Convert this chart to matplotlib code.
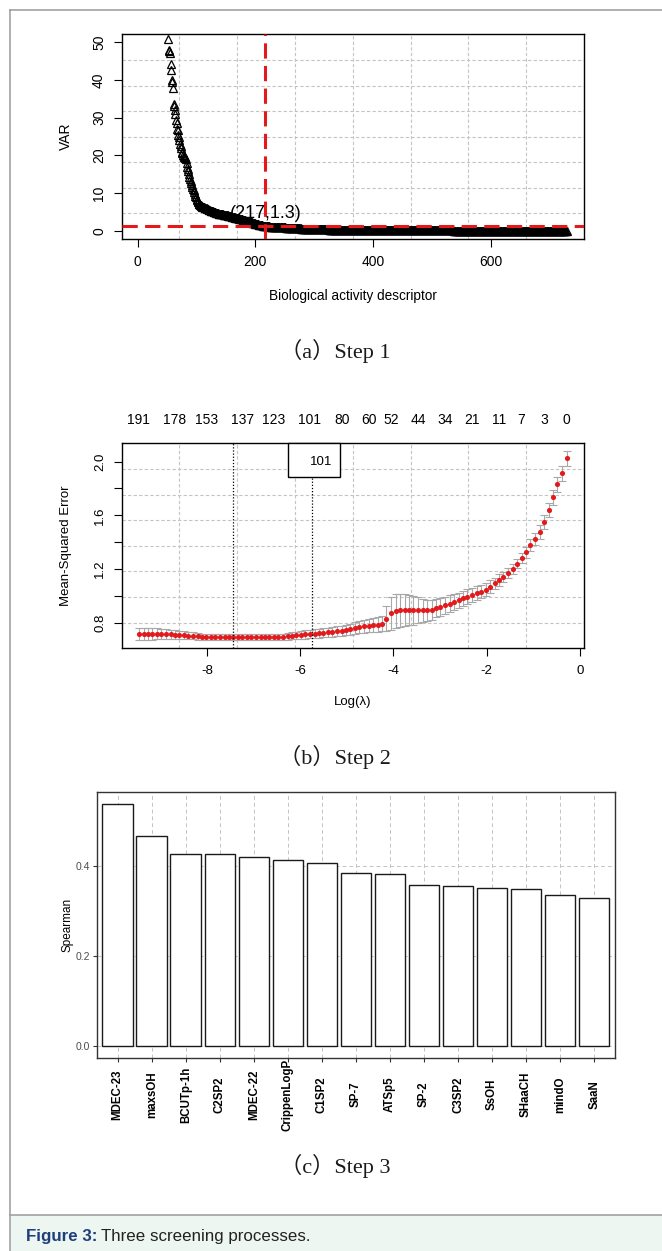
import numpy as np
import matplotlib
matplotlib.use('Agg')
import matplotlib.pyplot as plt
from matplotlib.patches import Rectangle
from matplotlib.lines import Line2D
import matplotlib.transforms as mtransforms

plt.rcParams['font.family'] = ['Liberation Sans', 'DejaVu Sans']
plt.rcParams['axes.unicode_minus'] = False

# ---------------- Panel (a) data: VAR of sorted descriptors ----------------
var_steep = [50.8, 48.0, 47.6, 47.2, 44.2, 42.5, 40.0, 39.5, 37.8, 33.6, 33.1, 32.0, 31.0, 29.4, 28.5,
             27.0, 26.7, 25.5, 24.8, 24.1, 23.0, 22.4, 21.9, 21.0, 20.6, 20.1, 19.9, 19.7, 19.5, 19.3,
             19.0, 18.0, 17.0, 16.5, 15.8, 15.0, 14.4, 13.8, 13.2, 12.6, 12.2, 11.7, 11.2, 10.8, 10.4,
             9.9, 9.4, 8.9, 8.5, 8.2, 7.9, 7.6, 7.3, 7.1, 6.9, 6.8, 6.7, 6.6, 6.5]
var_knee = [6.4, 6.35, 6.3, 6.2, 6.1, 6.05, 6.0, 5.9, 5.8, 5.75, 5.7, 5.6, 5.5, 5.45, 5.4, 5.3, 5.25,
            5.2, 5.1, 5.05, 5.0, 4.95, 4.9, 4.85, 4.8, 4.75, 4.7, 4.65, 4.6, 4.55, 4.5, 4.48, 4.45,
            4.42, 4.4, 4.38, 4.35, 4.33, 4.31, 4.3,
            4.25, 4.2, 4.15, 4.1, 4.05, 4.0, 3.96, 3.92, 3.88, 3.84, 3.8, 3.76, 3.72, 3.68, 3.64, 3.6,
            3.56, 3.52, 3.48, 3.44, 3.4, 3.36, 3.32, 3.28, 3.24, 3.2, 3.15, 3.1, 3.05, 3.0,
            2.95, 2.9, 2.85, 2.8, 2.75, 2.7, 2.65, 2.6, 2.55, 2.5, 2.45, 2.4, 2.35, 2.3, 2.25, 2.2,
            2.15, 2.1, 2.05, 2.0, 1.95, 1.9, 1.86, 1.82, 1.78, 1.74, 1.7, 1.66, 1.62, 1.58, 1.54,
            1.5, 1.46, 1.42, 1.38, 1.34, 1.3]
var_mid = [1.29, 1.28, 1.27, 1.26, 1.25, 1.24, 1.23, 1.22, 1.21, 1.20,
           1.19, 1.18, 1.17, 1.16, 1.15, 1.14, 1.13, 1.12, 1.11, 1.10,
           1.09, 1.08, 1.07, 1.06, 1.05, 1.04, 1.03, 1.02, 1.01, 1.00,
           0.99, 0.98, 0.97, 0.96, 0.95, 0.94, 0.93, 0.92, 0.91, 0.90,
           0.89, 0.88, 0.87, 0.86, 0.85, 0.84, 0.83, 0.82, 0.81, 0.80,
           0.79, 0.78, 0.77, 0.76, 0.75, 0.74, 0.73, 0.72, 0.71, 0.70,
           0.69, 0.68, 0.67, 0.66, 0.65, 0.64, 0.63, 0.62, 0.61, 0.60,
           0.60, 0.59, 0.59, 0.58, 0.58, 0.57, 0.57, 0.56, 0.56, 0.55, 0.55, 0.54, 0.54]
var_tail = [0.54, 0.53, 0.53, 0.52, 0.52, 0.51, 0.51, 0.50, 0.50, 0.49,
            0.49, 0.48, 0.48, 0.47, 0.47, 0.46, 0.46, 0.46, 0.45, 0.45,
            0.45, 0.44, 0.44, 0.44, 0.43, 0.43, 0.43, 0.42, 0.42, 0.42,
            0.42, 0.41, 0.41, 0.41, 0.41, 0.40, 0.40, 0.40, 0.40, 0.40,
            0.40, 0.39, 0.39, 0.39, 0.39, 0.39, 0.38, 0.38, 0.38, 0.38,
            0.38, 0.37, 0.37, 0.37, 0.37, 0.37, 0.36, 0.36, 0.36, 0.36,
            0.36, 0.35, 0.35, 0.35, 0.35, 0.35, 0.34, 0.34, 0.34, 0.34,
            0.34, 0.33, 0.33, 0.33, 0.33, 0.33, 0.33, 0.32, 0.32, 0.32,
            0.32, 0.32, 0.32, 0.31, 0.31, 0.31, 0.31, 0.31, 0.31, 0.31,
            0.30, 0.30, 0.30, 0.30, 0.30, 0.30, 0.30, 0.30, 0.30, 0.30,
            0.29, 0.29, 0.29, 0.29, 0.29, 0.29, 0.29, 0.29, 0.29, 0.29,
            0.28, 0.28, 0.28, 0.28, 0.28, 0.28, 0.28, 0.28, 0.28, 0.28,
            0.27, 0.27, 0.27, 0.27, 0.27, 0.27, 0.27, 0.27, 0.27, 0.27,
            0.26, 0.26, 0.26, 0.26, 0.26, 0.26, 0.26, 0.26, 0.26, 0.26,
            0.25, 0.25, 0.25, 0.25, 0.25, 0.25, 0.25, 0.25, 0.25, 0.25,
            0.24, 0.24, 0.24, 0.24, 0.24, 0.24, 0.24, 0.24, 0.24, 0.24,
            0.23, 0.23, 0.23, 0.23, 0.23, 0.23, 0.23, 0.23, 0.23, 0.23,
            0.22, 0.22, 0.22, 0.22, 0.22, 0.22, 0.22, 0.22, 0.22, 0.22,
            0.21, 0.21, 0.21, 0.21, 0.21, 0.21, 0.21, 0.21, 0.21, 0.21,
            0.20, 0.20, 0.20, 0.20, 0.20, 0.20, 0.20, 0.20, 0.20, 0.20,
            0.19, 0.19, 0.19, 0.19, 0.19, 0.19, 0.19, 0.19, 0.19, 0.19, 0.19, 0.19,
            0.18, 0.18, 0.18, 0.18, 0.18, 0.18, 0.18, 0.18, 0.18, 0.18, 0.18, 0.18,
            0.17, 0.17, 0.17, 0.17, 0.17, 0.17, 0.17, 0.17, 0.17, 0.17, 0.17, 0.17,
            0.16, 0.16, 0.16, 0.16, 0.16, 0.16, 0.16, 0.16, 0.16, 0.16, 0.16, 0.16,
            0.15, 0.15, 0.15, 0.15, 0.15, 0.15, 0.15, 0.15, 0.15, 0.15, 0.15, 0.15, 0.15,
            0.14, 0.14, 0.14, 0.14, 0.14, 0.14, 0.14, 0.14, 0.14, 0.14, 0.14, 0.14, 0.14,
            0.13, 0.13, 0.13, 0.13, 0.13, 0.13, 0.13, 0.13, 0.13, 0.13, 0.13, 0.13, 0.13,
            0.12, 0.12, 0.12, 0.12, 0.12, 0.12, 0.12, 0.12, 0.12, 0.12, 0.12, 0.12, 0.12,
            0.11, 0.11, 0.11, 0.11, 0.11, 0.11, 0.11, 0.11, 0.11, 0.11, 0.11, 0.11, 0.11, 0.11,
            0.10, 0.10, 0.10, 0.10, 0.10, 0.10, 0.10, 0.10, 0.10, 0.10, 0.10, 0.10, 0.10, 0.10,
            0.09, 0.09, 0.09, 0.09, 0.09, 0.09, 0.09, 0.09, 0.09, 0.09, 0.09, 0.09, 0.09, 0.09,
            0.08, 0.08, 0.08, 0.08, 0.08, 0.08, 0.08, 0.08, 0.08, 0.08, 0.08, 0.08, 0.08, 0.08,
            0.07, 0.07, 0.07, 0.07, 0.07, 0.07, 0.07, 0.07, 0.07, 0.07, 0.07, 0.07, 0.07, 0.07,
            0.06, 0.06, 0.06, 0.06, 0.06, 0.06, 0.06, 0.06, 0.06, 0.06, 0.06, 0.06, 0.06, 0.06, 0.06,
            0.05, 0.05, 0.05, 0.05, 0.05, 0.05, 0.05, 0.05, 0.05, 0.05, 0.05, 0.05, 0.05, 0.05, 0.05,
            0.04, 0.04, 0.04, 0.04, 0.04, 0.04, 0.04, 0.04, 0.04, 0.04,
            0.03, 0.03, 0.03, 0.03, 0.03, 0.03, 0.03, 0.03, 0.03, 0.03,
            0.02, 0.02, 0.02, 0.02, 0.02, 0.02, 0.02, 0.02, 0.02]
var_values = var_steep + var_knee + var_mid + var_tail
first_visible_index = 52
desc_index = np.arange(first_visible_index, first_visible_index + len(var_values))
cut_x, cut_y = 217, 1.3
a_xticks = [0, 200, 400, 600]
a_yticks = [0, 10, 20, 30, 40, 50]

# ---------------- Panel (b) data: cross-validated LASSO ----------------
loglam = [-9.46, -9.36, -9.27, -9.17, -9.07, -8.98, -8.88, -8.78, -8.69, -8.59,
          -8.49, -8.40, -8.30, -8.20, -8.11, -8.01, -7.91, -7.82, -7.72, -7.62,
          -7.53, -7.43, -7.33, -7.24, -7.14, -7.05, -6.95, -6.85, -6.76, -6.66,
          -6.56, -6.47, -6.37, -6.27, -6.18, -6.08, -5.98, -5.89, -5.79, -5.69,
          -5.60, -5.50, -5.40, -5.31, -5.21, -5.11, -5.02, -4.92, -4.82, -4.73,
          -4.63, -4.53, -4.44, -4.34, -4.24, -4.15, -4.05, -3.95, -3.86, -3.76,
          -3.66, -3.57, -3.47, -3.37, -3.28, -3.18, -3.08, -2.99, -2.89, -2.79,
          -2.70, -2.60, -2.50, -2.41, -2.31, -2.21, -2.12, -2.02, -1.93, -1.83,
          -1.73, -1.64, -1.54, -1.44, -1.35, -1.25, -1.15, -1.06, -0.96, -0.86,
          -0.77, -0.67, -0.57, -0.48, -0.38, -0.28]
cvm = [0.717, 0.716, 0.716, 0.715, 0.715, 0.714, 0.713, 0.711, 0.710, 0.708,
       0.706, 0.703, 0.700, 0.697, 0.694, 0.692, 0.691, 0.690, 0.690, 0.689,
       0.689, 0.689, 0.689, 0.690, 0.690, 0.689, 0.689, 0.689, 0.689, 0.690,
       0.690, 0.691, 0.693, 0.697, 0.701, 0.704, 0.707, 0.711, 0.714, 0.717,
       0.721, 0.724, 0.728, 0.732, 0.736, 0.740, 0.745, 0.750, 0.760, 0.766,
       0.772, 0.777, 0.781, 0.785, 0.790, 0.830, 0.868, 0.888, 0.892, 0.893,
       0.891, 0.890, 0.890, 0.890, 0.891, 0.895, 0.908, 0.918, 0.930, 0.942,
       0.955, 0.967, 0.980, 0.992, 1.005, 1.018, 1.030, 1.045, 1.068, 1.092,
       1.118, 1.140, 1.167, 1.198, 1.240, 1.280, 1.325, 1.380, 1.425, 1.475,
       1.548, 1.640, 1.735, 1.830, 1.915, 2.025]
cvsd = [0.045, 0.044, 0.043, 0.042, 0.041, 0.040, 0.038, 0.036, 0.034, 0.032,
        0.030, 0.028, 0.026, 0.025, 0.024, 0.024, 0.023, 0.023, 0.023, 0.022,
        0.022, 0.022, 0.022, 0.022, 0.022, 0.022, 0.022, 0.022, 0.022, 0.023,
        0.023, 0.024, 0.025, 0.026, 0.027, 0.028, 0.029, 0.030, 0.031, 0.032,
        0.033, 0.034, 0.035, 0.036, 0.037, 0.038, 0.040, 0.042, 0.044, 0.046,
        0.048, 0.050, 0.052, 0.054, 0.056, 0.090, 0.120, 0.125, 0.122, 0.118,
        0.112, 0.105, 0.097, 0.088, 0.080, 0.074, 0.070, 0.066, 0.063, 0.060,
        0.058, 0.057, 0.056, 0.055, 0.054, 0.053, 0.050, 0.048, 0.046, 0.044,
        0.042, 0.040, 0.038, 0.036, 0.036, 0.037, 0.040, 0.043, 0.046, 0.050,
        0.052, 0.054, 0.055, 0.056, 0.056, 0.056]
nz_pos = [-9.46, -8.69, -8.01, -7.24, -6.56, -5.79, -5.11, -4.53, -4.05, -3.47,
          -2.89, -2.31, -1.73, -1.25, -0.77, -0.28]
nz_labels = ['191', '178', '153', '137', '123', '101', '80', '60', '52', '44',
             '34', '21', '11', '7', '3', '0']
lambda_min, lambda_1se = -7.43, -5.74
selected_label = '101'
b_xticks = [-8, -6, -4, -2, 0]
b_yticks = [0.8, 1.0, 1.2, 1.4, 1.6, 1.8, 2.0]
b_yticklabels = ['0.8', '', '1.2', '', '1.6', '', '2.0']

# ---------------- Panel (c) data: Spearman correlation ----------------
features = ['MDEC-23', 'maxsOH', 'BCUTp-1h', 'C2SP2', 'MDEC-22', 'CrippenLogP', 'C1SP2',
            'SP-7', 'ATSp5', 'SP-2', 'C3SP2', 'SsOH', 'SHaaCH', 'mindO', 'SaaN']
spearman = [0.539, 0.467, 0.428, 0.426, 0.421, 0.413, 0.408, 0.385, 0.383, 0.357,
            0.355, 0.352, 0.349, 0.336, 0.328]
c_yticks = [0.0, 0.2, 0.4]

captions = ['（a）Step 1', '（b）Step 2', '（c）Step 3']
figure_label = 'Figure 3:'
figure_title = 'Three screening processes.'

# ---------------- Figure ----------------
W, H = 662, 1251
fig = plt.figure(figsize=(W / 100, H / 100), dpi=100)
PX = 72 / 100  # points per pixel


def add_ax(l, t, r, b):
    return fig.add_axes([l / W, 1 - b / H, (r - l) / W, (b - t) / H])


def ftext(x, y, s, **kw):
    return fig.text(x / W, 1 - y / H, s, **kw)


# outer frame and caption band
border = '#9a9a9a'
fig.add_artist(Rectangle((10.8 / W, 0), 1 - 10.8 / W, (H - 1215) / H, transform=fig.transFigure,
                         facecolor='#eef6f1', edgecolor='none', zorder=0))
fig.add_artist(Line2D([10.3 / W, 1.0], [1 - 10.3 / H] * 2, color=border, lw=1.1))
fig.add_artist(Line2D([10.3 / W] * 2, [1 - 10.3 / H, 0], color=border, lw=1.1))
fig.add_artist(Line2D([10.3 / W, 1.0], [1 - 1215 / H] * 2, color=border, lw=1.1))

grid_kw = dict(color='#c4c4c4', ls=(0, (3, 2)), lw=0.8, zorder=0)


def r_style(ax, fs):
    for sp in ax.spines.values():
        sp.set_linewidth(1.0)
        sp.set_color('black')
    ax.tick_params(direction='out', length=8 * PX, width=0.8, labelsize=fs, colors='black')
    ax.tick_params(axis='x', pad=8.5 * PX)
    ax.tick_params(axis='y', pad=7.5 * PX)
    for lbl in ax.get_yticklabels():
        lbl.set_rotation(90)
        lbl.set_va('center')


def r_grid(ax, x0, x1, y0, y1):
    for gx in np.linspace(x0, x1, 9)[1:-1]:
        ax.axvline(gx, **grid_kw)
    for gy in np.linspace(y0, y1, 9)[1:-1]:
        ax.axhline(gy, **grid_kw)


# ---------------- Panel (a) ----------------
axa = add_ax(121.6, 34.4, 583.9, 239.0)
ax0, ax1, ay0, ay1 = -27.3, 758.3, -2.08, 52.0
axa.set_xlim(ax0, ax1)
axa.set_ylim(ay0, ay1)
r_grid(axa, ax0, ax1, ay0, ay1)
axa.plot(desc_index, var_values, ls='none', marker='^', ms=6.0, mfc='none', mec='black', mew=0.9,
         zorder=2)
red = '#e3191c'
axa.axvline(cut_x, color=red, lw=2.2, ls=(0, (5, 2.4)), zorder=3)
axa.axhline(cut_y, color=red, lw=2.2, ls=(0, (5, 2.4)), zorder=3)
axa.text(cut_x, 4.7, '(%d,%.1f)' % (cut_x, cut_y), ha='center', va='center', fontsize=13, zorder=4)
axa.set_xticks(a_xticks)
axa.set_yticks(a_yticks)
r_style(axa, 10)
ftext(66, 136.7, 'VAR', rotation=90, ha='center', va='center', fontsize=10)
ftext(352.7, 296, 'Biological activity descriptor', ha='center', va='center', fontsize=9.8)

# ---------------- Panel (b) ----------------
axb = add_ax(121.6, 443.3, 583.9, 648.3)
bx0, bx1, by0, by1 = -9.83, 0.087, 0.608, 2.137
axb.set_xlim(bx0, bx1)
axb.set_ylim(by0, by1)
r_grid(axb, bx0, bx1, by0, by1)
axb.errorbar(loglam, cvm, yerr=cvsd, fmt='none', ecolor='#a8a8a8', elinewidth=0.8, capsize=3,
             capthick=0.8, zorder=2)
axb.plot(loglam, cvm, ls='none', marker='o', ms=3.7, mfc=red, mec=red, mew=0, zorder=3)
axb.axvline(lambda_min, color='black', ls=(0, (1, 1.5)), lw=0.9, zorder=3)
axb.axvline(lambda_1se, color='black', ls=(0, (1, 1.5)), lw=0.9, zorder=3)
axb.add_patch(Rectangle((-6.27, 1.885), 1.12, by1 - 1.885, facecolor='white', edgecolor='black',
                        lw=1.0, zorder=4, clip_on=False))
axb.text(-5.54, 2.0, selected_label, ha='center', va='center', fontsize=9.5, zorder=5)
trans_top = mtransforms.blended_transform_factory(axb.transData, axb.transAxes)
for p, s in zip(nz_pos, nz_labels):
    axb.text(p, 1 + 23.3 / 205, s, transform=trans_top, ha='center', va='center', fontsize=10,
             clip_on=False)
axb.set_xticks(b_xticks)
axb.set_yticks(b_yticks)
axb.set_yticklabels(b_yticklabels)
r_style(axb, 9.5)
ftext(66, 546, 'Mean-Squared Error', rotation=90, ha='center', va='center', fontsize=9.5)
ftext(352.7, 701.7, 'Log(λ)', ha='center', va='center', fontsize=9.5)

# ---------------- Panel (c) ----------------
axc = add_ax(97.3, 791.7, 614.6, 1057.7)
pos = np.arange(1, len(features) + 1)
axc.set_xlim(0.4, len(features) + 0.6)
axc.set_ylim(-0.027, 0.566)
cgrid = dict(color='#c4c4c4', ls=(0, (4, 3)), lw=0.7, zorder=0)
for p in pos:
    axc.axvline(p, **cgrid)
for yv in c_yticks:
    axc.axhline(yv, **cgrid)
axc.bar(pos, spearman, width=0.9, color='white', edgecolor='#1a1a1a', lw=1.0, zorder=2)
for sp in axc.spines.values():
    sp.set_linewidth(1.0)
    sp.set_color('#333333')
axc.set_yticks(c_yticks)
axc.set_yticklabels(['%.1f' % v for v in c_yticks])
axc.set_xticks(pos)
axc.set_xticklabels(features)
axc.tick_params(direction='out', length=3.8 * PX, width=0.8, colors='#333333')
axc.tick_params(axis='y', labelsize=7.5, labelcolor='#4d4d4d', pad=3 * PX)
axc.tick_params(axis='x', labelsize=8.3, labelcolor='black', pad=(1094.5 - 1057.7 - 3.8) * PX)
for lbl in axc.get_xticklabels():
    lbl.set_rotation(90)
    lbl.set_va('center')
    lbl.set_ha('center')
    lbl.set_fontweight('bold')
ftext(67, 925, 'Spearman', rotation=90, ha='center', va='center', fontsize=8.5)

# ---------------- Captions ----------------
cap_family = ['Liberation Serif', 'Noto Sans CJK SC', 'DejaVu Serif']
for s, y in zip(captions, [351, 757, 1166]):
    ftext(335, y, s, ha='center', va='center', fontsize=16, family=cap_family, color='#1a1a1a')

t1 = ftext(26, 1237, figure_label, ha='left', va='center', fontsize=12.2, fontweight='bold',
           color='#1e3f7c')
fig.canvas.draw()
bb = t1.get_window_extent()
fig.text((bb.x1 + 4) / W, 1 - 1237 / H, figure_title, ha='left', va='center', fontsize=12.2,
         color='#222222')

fig.savefig('out.png', dpi=100)
